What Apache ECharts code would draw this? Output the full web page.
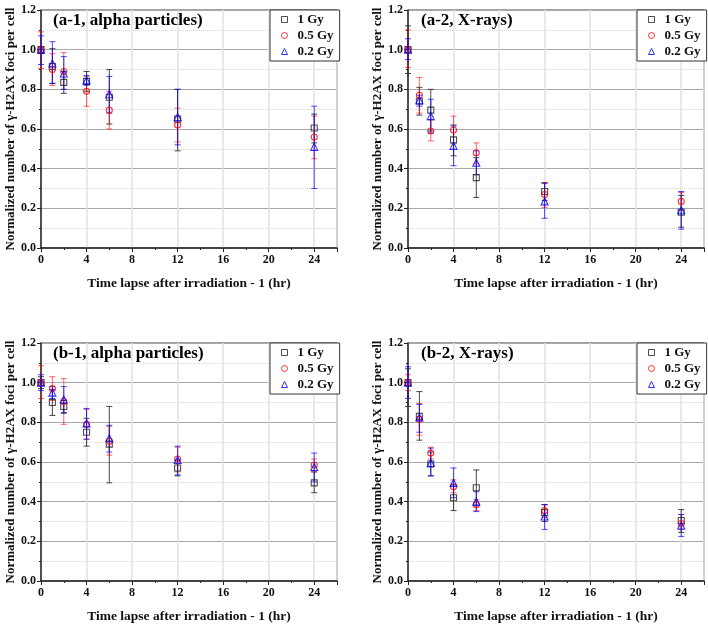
<!DOCTYPE html>
<html>
<head>
<meta charset="utf-8">
<script src="https://cdn.jsdelivr.net/npm/echarts@6/dist/echarts.min.js"></script>
<style>
  html, body { margin: 0; padding: 0; background: #fff; }
  #main { width: 708px; height: 627px; }
</style>
</head>
<body>
<div id="main"></div>
<script>
// hours after irradiation (minus 1)
var hours = [0, 1, 2, 4, 6, 12, 24];
var doseNames = ['1 Gy', '0.5 Gy', '0.2 Gy'];
var yTicks = [0, 0.2, 0.4, 0.6, 0.8, 1.0, 1.2];

// (a-1, alpha particles)
var a1_1Gy = [1.0, 0.915, 0.835, 0.84, 0.76, 0.65, 0.605];
var a1_1Gy_lo = [0.98, 0.83, 0.78, 0.79, 0.625, 0.49, 0.53];
var a1_1Gy_hi = [1.015, 1.005, 0.89, 0.89, 0.90, 0.80, 0.675];
var a1_05Gy = [1.0, 0.90, 0.89, 0.79, 0.695, 0.62, 0.56];
var a1_05Gy_lo = [0.905, 0.82, 0.80, 0.715, 0.60, 0.535, 0.45];
var a1_05Gy_hi = [1.09, 0.98, 0.985, 0.865, 0.79, 0.705, 0.665];
var a1_02Gy = [1.0, 0.93, 0.88, 0.845, 0.775, 0.66, 0.51];
var a1_02Gy_lo = [0.925, 0.83, 0.80, 0.82, 0.68, 0.52, 0.30];
var a1_02Gy_hi = [1.07, 1.04, 0.965, 0.87, 0.865, 0.80, 0.715];

// (a-2, X-rays)
var a2_1Gy = [1.0, 0.74, 0.695, 0.545, 0.355, 0.285, 0.18];
var a2_1Gy_lo = [0.88, 0.67, 0.59, 0.465, 0.255, 0.24, 0.105];
var a2_1Gy_hi = [1.12, 0.81, 0.80, 0.62, 0.455, 0.33, 0.265];
var a2_05Gy = [1.0, 0.77, 0.59, 0.595, 0.48, 0.27, 0.235];
var a2_05Gy_lo = [0.91, 0.68, 0.54, 0.525, 0.425, 0.205, 0.19];
var a2_05Gy_hi = [1.10, 0.86, 0.645, 0.665, 0.53, 0.33, 0.28];
var a2_02Gy = [1.0, 0.745, 0.665, 0.515, 0.43, 0.235, 0.19];
var a2_02Gy_lo = [0.95, 0.715, 0.58, 0.415, 0.37, 0.15, 0.095];
var a2_02Gy_hi = [1.055, 0.77, 0.75, 0.615, 0.49, 0.325, 0.285];

// (b-1, alpha particles)
var b1_1Gy = [1.0, 0.90, 0.88, 0.75, 0.69, 0.57, 0.495];
var b1_1Gy_lo = [0.97, 0.835, 0.85, 0.68, 0.495, 0.53, 0.445];
var b1_1Gy_hi = [1.03, 0.965, 0.91, 0.82, 0.88, 0.61, 0.55];
var b1_05Gy = [1.0, 0.97, 0.905, 0.79, 0.705, 0.615, 0.585];
var b1_05Gy_lo = [0.92, 0.91, 0.79, 0.715, 0.635, 0.55, 0.55];
var b1_05Gy_hi = [1.085, 1.03, 1.02, 0.865, 0.78, 0.675, 0.615];
var b1_02Gy = [1.0, 0.95, 0.915, 0.795, 0.72, 0.61, 0.575];
var b1_02Gy_lo = [0.96, 0.92, 0.845, 0.715, 0.65, 0.535, 0.50];
var b1_02Gy_hi = [1.04, 0.98, 0.98, 0.87, 0.785, 0.68, 0.645];

// (b-2, X-rays)
var b2_1Gy = [1.0, 0.83, 0.59, 0.42, 0.47, 0.345, 0.305];
var b2_1Gy_lo = [0.88, 0.71, 0.53, 0.355, 0.38, 0.30, 0.245];
var b2_1Gy_hi = [1.07, 0.955, 0.65, 0.485, 0.56, 0.385, 0.36];
var b2_05Gy = [1.0, 0.815, 0.645, 0.475, 0.385, 0.355, 0.29];
var b2_05Gy_lo = [0.96, 0.735, 0.615, 0.445, 0.355, 0.32, 0.26];
var b2_05Gy_hi = [1.04, 0.895, 0.675, 0.51, 0.41, 0.385, 0.335];
var b2_02Gy = [1.0, 0.825, 0.595, 0.495, 0.40, 0.325, 0.28];
var b2_02Gy_lo = [0.92, 0.75, 0.53, 0.42, 0.35, 0.26, 0.225];
var b2_02Gy_hi = [1.08, 0.89, 0.67, 0.57, 0.45, 0.385, 0.335];

var panels = [
  { title: '(a-1, alpha particles)', left: 41, top: 10, titleX: 53, titleY: 12,
    means: [a1_1Gy, a1_05Gy, a1_02Gy], lows: [a1_1Gy_lo, a1_05Gy_lo, a1_02Gy_lo], highs: [a1_1Gy_hi, a1_05Gy_hi, a1_02Gy_hi] },
  { title: '(a-2, X-rays)', left: 408, top: 10, titleX: 421, titleY: 12,
    means: [a2_1Gy, a2_05Gy, a2_02Gy], lows: [a2_1Gy_lo, a2_05Gy_lo, a2_02Gy_lo], highs: [a2_1Gy_hi, a2_05Gy_hi, a2_02Gy_hi] },
  { title: '(b-1, alpha particles)', left: 41, top: 343, titleX: 53, titleY: 345,
    means: [b1_1Gy, b1_05Gy, b1_02Gy], lows: [b1_1Gy_lo, b1_05Gy_lo, b1_02Gy_lo], highs: [b1_1Gy_hi, b1_05Gy_hi, b1_02Gy_hi] },
  { title: '(b-2, X-rays)', left: 408, top: 343, titleX: 421, titleY: 345,
    means: [b2_1Gy, b2_05Gy, b2_02Gy], lows: [b2_1Gy_lo, b2_05Gy_lo, b2_02Gy_lo], highs: [b2_1Gy_hi, b2_05Gy_hi, b2_02Gy_hi] }
];

var gridW = 296, gridH = 238;
var font = 'Liberation Serif';
var symbols = ['rect', 'circle', 'triangle'];
var symbolSizes = [6, 6, 7];
var colors = ['#222222', '#ff0000', '#0000ff'];
var barColors = ['rgba(40,40,40,0.85)', 'rgba(255,0,0,0.6)', 'rgba(0,0,255,0.7)'];

function errorBars(name, gi, lo, hi, color) {
  var data = hours.map(function (h, i) { return [h, lo[i], hi[i]]; });
  return {
    type: 'custom',
    name: name + ' err',
    xAxisIndex: gi,
    yAxisIndex: gi,
    encode: { x: 0, y: [1, 2] },
    data: data,
    z: 2,
    renderItem: function (params, api) {
      var x = api.value(0);
      var p1 = api.coord([x, api.value(1)]);
      var p2 = api.coord([x, api.value(2)]);
      var w = 3;
      var style = { stroke: color, lineWidth: 1 };
      return {
        type: 'group',
        children: [
          { type: 'line', shape: { x1: p1[0], y1: p1[1], x2: p2[0], y2: p2[1] }, style: style },
          { type: 'line', shape: { x1: p1[0] - w, y1: p1[1], x2: p1[0] + w, y2: p1[1] }, style: style },
          { type: 'line', shape: { x1: p2[0] - w, y1: p2[1], x2: p2[0] + w, y2: p2[1] }, style: style }
        ]
      };
    }
  };
}

var grids = [], xAxes = [], yAxes = [], titles = [], legends = [], series = [];

panels.forEach(function (p, gi) {
  grids.push({
    left: p.left, top: p.top, width: gridW, height: gridH,
    show: true, borderColor: '#444', borderWidth: 1, backgroundColor: 'transparent'
  });
  xAxes.push({
    type: 'value', gridIndex: gi, min: 0, max: 26, interval: 4,
    name: 'Time lapse after irradiation - 1 (hr)',
    nameLocation: 'middle', nameGap: 29,
    nameTextStyle: { fontFamily: font, fontWeight: 'bold', fontSize: 13.5, color: '#111' },
    axisLine: { lineStyle: { color: '#222', width: 1.5 } },
    axisTick: { inside: false, length: 4, lineStyle: { color: '#222' } },
    minorTick: { show: true, splitNumber: 2, length: 2, lineStyle: { color: '#222' } },
    axisLabel: { fontFamily: font, fontWeight: 'bold', fontSize: 12, color: '#111', margin: 6, showMaxLabel: false },
    splitLine: { show: true, lineStyle: { color: '#e2e2e2', width: 1.5 } }
  });
  yAxes.push({
    type: 'value', gridIndex: gi, min: 0, max: 1.2, interval: 0.2,
    name: 'Normalized number of \u03b3-H2AX foci per cell',
    nameLocation: 'middle', nameGap: 24,
    nameTextStyle: { fontFamily: font, fontWeight: 'bold', fontSize: 13, color: '#111' },
    axisLine: { show: true, lineStyle: { color: '#222', width: 1.5 } },
    axisTick: { show: true, inside: false, length: 4, lineStyle: { color: '#222' } },
    minorTick: { show: true, splitNumber: 2, length: 2, lineStyle: { color: '#222' } },
    axisLabel: {
      fontFamily: font, fontWeight: 'bold', fontSize: 12, color: '#111', margin: 5,
      formatter: function (v) { return v.toFixed(1); }
    },
    splitLine: { show: true, lineStyle: { color: '#a8a8a8', width: 1 } },
    minorSplitLine: { show: true, lineStyle: { color: '#d8d8d8', type: 'dotted', width: 1 } }
  });
  titles.push({
    text: p.title, left: p.titleX, top: p.titleY, padding: 0,
    textStyle: { fontFamily: font, fontWeight: 'bold', fontSize: 17, color: '#000' }
  });
  legends.push({
    data: doseNames, orient: 'vertical',
    left: p.left + gridW - 67, top: p.top,
    backgroundColor: '#fff', borderColor: '#333', borderWidth: 1,
    padding: [3, 6, 3, 11], itemGap: 3, itemWidth: 6, itemHeight: 6,
    itemStyle: { borderWidth: 1 },
    textStyle: { fontFamily: font, fontWeight: 'bold', fontSize: 13, color: '#111', padding: [0, 0, 0, 5] },
    selectedMode: false
  });
  for (var d = 0; d < 3; d++) {
    series.push(errorBars(doseNames[d], gi, p.lows[d], p.highs[d], barColors[d]));
  }
  for (var k = 0; k < 3; k++) {
    var vals = p.means[k];
    series.push({
      type: 'scatter', name: doseNames[k],
      xAxisIndex: gi, yAxisIndex: gi,
      symbol: symbols[k], symbolSize: symbolSizes[k],
      itemStyle: { color: 'rgba(255,255,255,0)', borderColor: colors[k], borderWidth: 1.1 },
      z: 3,
      data: hours.map(function (h, i) { return [h, vals[i]]; })
    });
  }
});

var chart = echarts.init(document.getElementById('main'));
chart.setOption({
  animation: false,
  backgroundColor: '#fff',
  title: titles,
  legend: legends,
  grid: grids,
  xAxis: xAxes,
  yAxis: yAxes,
  series: series
});
</script>
</body>
</html>
